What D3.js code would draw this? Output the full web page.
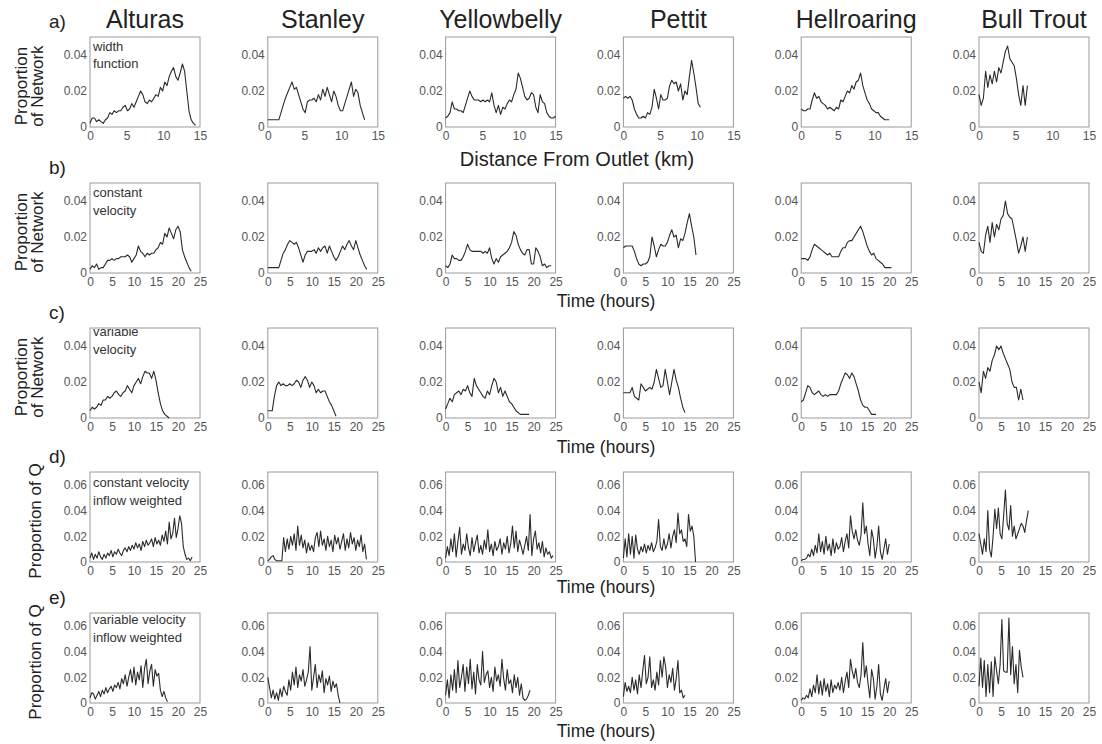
<!DOCTYPE html>
<html><head><meta charset="utf-8">
<script src="https://cdn.jsdelivr.net/npm/d3@7"></script>
<style>body{margin:0;background:#fff} text{font-family:"Liberation Sans",Arial,sans-serif}</style>
</head><body><svg id="chart" width="1102" height="744"></svg>
<script>
// ---------- categories & labels ----------
const sites = ["Alturas","Stanley","Yellowbelly","Pettit","Hellroaring","Bull Trout"];
const rowLetters = ["a)","b)","c)","d)","e)"];
const rowNotes = [["width","function"],["constant","velocity"],["variable","velocity"],["constant velocity","inflow weighted"],["variable velocity","inflow weighted"]];
const rowYTitles = [["Proportion","of Network"],["Proportion","of Network"],["Proportion","of Network"],["Proportion of Q"],["Proportion of Q"]];
const rowXTitles = ["Distance From Outlet (km)","Time (hours)","Time (hours)","Time (hours)","Time (hours)"];
const kmTicks = [0,5,10,15];
const hourTicks = [0,5,10,15,20,25];
// y values are stored in thousandths (0.001) of the proportion
const networkTicks = [0,20,40];
const networkTickLabels = ["0","0.02","0.04"];
const qTicks = [0,20,40,60];
const qTickLabels = ["0","0.02","0.04","0.06"];
// sampling intervals of the series
const stepKm = 0.3;      // km between width-function samples
const stepHours = 0.5;   // hours between travel-time samples (rows b, c)
const stepHoursQ = 0.4;  // hours between inflow-weighted samples (rows d, e)

// ---------- a) width function (km) ----------
const widthAlturas = [2,5,5,3,4,3,2,4,5,8,7,9,8,9,9,11,12,9,10,13,11,14,17,20,18,14,13,15,14,16,18,17,22,20,25,23,28,31,33,28,26,30,35,31,20,9,4,2,1];
const widthStanley = [4,4,4,4,4,4,8,12,16,19,22,25,21,22,18,14,10,8,14,15,15,16,14,18,15,21,17,22,18,14,20,17,12,9,9,13,17,21,25,17,21,19,12,8,4];
const widthYellowbelly = [5,6,8,14,10,10,9,9,8,12,16,20,17,15,15,15,14,15,14,15,14,19,12,8,12,7,11,10,13,15,14,18,21,30,27,22,17,15,16,19,18,11,8,18,14,13,8,6,5,5,6];
const widthPettit = [16,17,16,17,15,10,7,5,5,6,5,8,7,11,21,16,10,18,15,15,16,23,26,24,25,20,24,15,20,18,28,37,30,22,13,11];
const widthHellroaring = [10,9,9,10,10,15,19,16,17,14,13,12,10,11,10,9,11,10,15,14,17,20,19,23,21,25,26,30,23,19,15,13,10,9,8,8,6,5,4,4,4];
const widthBullTrout = [18,12,16,31,22,29,24,31,25,33,30,36,42,45,38,36,34,27,18,12,23,12,23];

// ---------- b) constant velocity (hours) ----------
const constAlturas = [2,4,3,5,2,3,3,5,7,7,8,7,8,8,9,9,9,10,9,6,8,10,15,12,11,9,11,10,11,11,13,14,17,16,22,20,25,22,19,24,26,23,13,9,6,3,1];
const constStanley = [3,3,3,3,3,3,7,11,13,16,18,17,16,17,14,10,6,10,12,12,12,13,11,14,12,14,15,11,15,12,9,7,9,12,15,13,16,18,15,13,18,14,10,7,4,2];
const constYellowbelly = [4,3,5,10,8,8,7,7,9,12,16,13,12,12,12,12,12,11,12,11,14,8,5,8,6,9,10,11,12,14,17,23,21,16,13,11,10,13,13,5,5,14,12,9,4,5,3,4,4];
const constPettit = [14,15,15,15,15,12,8,5,4,5,5,6,9,20,15,9,13,16,15,15,17,21,24,20,21,14,19,18,22,28,33,26,20,10];
const constHellroaring = [8,8,8,7,9,13,16,15,14,13,12,11,10,11,9,9,9,9,12,14,14,17,18,18,20,22,24,26,23,19,15,12,10,11,8,7,6,5,3,3,3,3];
const constBullTrout = [17,12,11,21,26,17,28,20,27,24,30,32,40,33,31,30,24,18,11,15,20,12,20];

// ---------- c) variable velocity (hours) ----------
const varAlturas = [4,6,5,6,8,7,10,10,12,11,12,14,15,13,12,14,15,18,16,14,18,20,22,19,23,26,25,25,22,26,21,14,8,4,2,1,0];
const varStanley = [4,4,4,12,18,20,18,19,18,18,19,18,19,21,20,17,21,23,21,17,20,18,14,16,14,15,15,12,9,7,4,1];
const varYellowbelly = [5,8,11,9,13,14,15,13,16,15,18,14,12,22,18,16,14,12,11,15,13,18,22,20,14,17,12,15,12,9,8,6,4,3,2,2,2,2,2];
const varPettit = [14,14,14,14,17,12,11,10,19,17,15,16,17,16,20,27,22,17,18,27,20,13,20,27,21,17,11,6,3];
const varHellroaring = [9,10,14,18,17,14,13,14,15,13,12,13,12,13,13,13,13,15,19,22,25,24,22,25,23,19,15,10,7,6,6,4,2,2,2];
const varBullTrout = [20,14,26,22,28,26,32,35,40,38,40,36,33,30,27,20,17,17,10,16,10];

// ---------- d) constant velocity, inflow weighted (hours) ----------
const constQAlturas = [3,7,2,6,3,8,4,2,6,3,7,5,9,4,8,6,10,7,5,9,11,8,12,9,13,10,15,11,14,9,16,12,17,13,15,18,12,19,14,17,13,21,16,24,14,31,18,22,34,19,26,36,30,12,6,2,3,1,4];
const constQStanley = [1,2,4,5,2,1,1,1,1,19,8,18,10,20,13,22,9,28,13,21,11,17,7,15,9,13,8,19,23,12,24,13,18,9,20,12,17,8,21,14,19,10,16,22,9,18,11,23,14,19,9,17,12,21,8,14,2];
const constQYellowbelly = [3,12,5,18,8,22,4,16,27,6,14,9,22,11,5,19,8,15,21,7,13,6,17,10,25,8,14,5,16,9,12,18,6,15,10,20,7,14,28,11,24,8,17,12,6,13,20,9,37,5,18,24,10,15,7,16,4,11,6,8,3,5];
const constQPettit = [3,18,4,22,6,20,3,21,10,6,12,8,14,7,13,9,15,8,11,16,33,12,9,18,10,14,22,11,20,25,15,38,22,25,16,18,12,37,24,28,20,0];
const constQHellroaring = [1,2,2,3,6,4,10,5,13,7,22,8,16,6,20,9,14,5,18,7,15,10,12,19,8,16,22,11,36,24,18,25,17,13,21,46,22,28,14,5,25,18,3,12,28,8,2,10,18,6,14];
const constQBullTrout = [22,14,6,18,8,40,10,4,20,41,26,42,22,18,36,56,30,25,44,20,28,18,22,26,30,28,23,32,40];

// ---------- e) variable velocity, inflow weighted (hours) ----------
const varQAlturas = [4,8,7,3,6,9,5,10,7,12,8,11,13,9,14,12,16,11,19,15,22,13,20,26,16,28,14,24,18,29,12,27,34,15,25,30,13,26,21,23,10,5,9,4,1];
const varQStanley = [20,12,4,10,3,8,2,11,5,13,9,6,18,10,24,14,28,12,22,17,26,13,18,24,44,10,20,30,12,22,16,25,8,19,14,21,9,17,12,15,6,0];
const varQYellowbelly = [6,18,4,22,10,26,8,33,12,20,30,9,28,15,34,11,24,7,30,18,14,40,16,22,25,12,20,9,28,17,22,13,34,19,10,26,15,18,8,22,12,20,6,15,4,2,3,6,10];
const varQPettit = [5,16,9,13,8,20,10,18,7,22,12,25,37,15,20,36,12,18,10,24,14,33,20,36,28,12,22,16,27,10,19,33,8,10,4,6];
const varQHellroaring = [2,4,3,6,4,11,5,14,8,22,7,17,6,19,9,15,5,18,8,14,11,16,10,20,8,17,24,12,34,25,19,27,16,12,22,47,20,29,15,4,26,19,3,13,30,7,2,11,19,8,17];
const varQBullTrout = [13,35,12,33,5,30,8,32,5,36,25,15,30,65,25,24,24,66,22,44,15,30,8,41,28,20];

// ---------- assemble rows ----------
const rows = [
  {series:[widthAlturas,widthStanley,widthYellowbelly,widthPettit,widthHellroaring,widthBullTrout], step:stepKm, xMax:15, xTicks:kmTicks, yMax:50, yTicks:networkTicks, yLabels:networkTickLabels},
  {series:[constAlturas,constStanley,constYellowbelly,constPettit,constHellroaring,constBullTrout], step:stepHours, xMax:25, xTicks:hourTicks, yMax:50, yTicks:networkTicks, yLabels:networkTickLabels},
  {series:[varAlturas,varStanley,varYellowbelly,varPettit,varHellroaring,varBullTrout], step:stepHours, xMax:25, xTicks:hourTicks, yMax:50, yTicks:networkTicks, yLabels:networkTickLabels},
  {series:[constQAlturas,constQStanley,constQYellowbelly,constQPettit,constQHellroaring,constQBullTrout], step:stepHoursQ, xMax:25, xTicks:hourTicks, yMax:70, yTicks:qTicks, yLabels:qTickLabels},
  {series:[varQAlturas,varQStanley,varQYellowbelly,varQPettit,varQHellroaring,varQBullTrout], step:stepHoursQ, xMax:25, xTicks:hourTicks, yMax:70, yTicks:qTicks, yLabels:qTickLabels}
];

// ---------- layout ----------
const svg = d3.select("#chart");
const panelW = 110, panelH = 90;
const colLeft = d3.range(sites.length).map(i => 90 + 177.8 * i);
const rowTop = [37, 183, 328, 472, 613];
const noteY = [[14,31],[14,32],[8,26],[15,33],[11,29]];
const xTitleY = [166, 307, 453, 593, 737];
const xTitleX = [577, 606, 606, 606, 606];

svg.append("defs").append("clipPath").attr("id", "panelClip")
  .append("rect").attr("x", 0).attr("y", 1).attr("width", panelW).attr("height", panelH);

// column titles
sites.forEach((s, c) => {
  svg.append("text").attr("x", colLeft[c] + panelW / 2).attr("y", 28)
    .attr("text-anchor", "middle").attr("font-size", 25).attr("fill", "#222").text(s);
});

rows.forEach((row, r) => {
  const top = rowTop[r];
  const x = d3.scaleLinear().domain([0, row.xMax]).range([0, panelW]);
  const y = d3.scaleLinear().domain([0, row.yMax]).range([panelH, 0]);
  const line = d3.line().x((v, i) => x(i * row.step)).y(v => y(v));

  // row letter
  svg.append("text").attr("x", 49).attr("y", top - 9).attr("font-size", 19).attr("fill", "#222").text(rowLetters[r]);

  // y title
  const cy = top + panelH / 2 + 4;
  const yt = rowYTitles[r];
  yt.forEach((t, k) => {
    const bx = yt.length === 2 ? (k === 0 ? 27 : 43) : 41;
    svg.append("text").attr("transform", `translate(${bx},${cy}) rotate(-90)`)
      .attr("text-anchor", "middle").attr("font-size", 17).attr("fill", "#222").text(t);
  });

  // x title
  svg.append("text").attr("x", xTitleX[r]).attr("y", xTitleY[r]).attr("text-anchor", "middle")
    .attr("font-size", r === 0 ? 20 : 17.5).attr("fill", "#222").text(rowXTitles[r]);

  sites.forEach((s, c) => {
    const g = svg.append("g").attr("transform", `translate(${colLeft[c]},${top})`);

    const xa = g.append("g").attr("transform", `translate(0,${panelH})`)
      .call(d3.axisBottom(x).tickValues(row.xTicks).tickSize(0).tickPadding(4).tickFormat(d3.format("d")));
    const ya = g.append("g")
      .call(d3.axisLeft(y).tickValues(row.yTicks).tickSize(0).tickPadding(3).tickFormat((d, i) => row.yLabels[i]));
    [xa, ya].forEach(a => {
      a.select(".domain").remove();
      a.selectAll("text").attr("font-size", 12).attr("fill", "#555").attr("font-family", '"Liberation Sans",Arial,sans-serif');
    });

    if (c === 0) {
      const notes = g.append("g").attr("clip-path", "url(#panelClip)");
      rowNotes[r].forEach((t, k) => {
        notes.append("text").attr("x", 3).attr("y", noteY[r][k]).attr("font-size", 13).attr("fill", "#333").text(t);
      });
    }

    g.append("rect").attr("width", panelW).attr("height", panelH)
      .attr("fill", "none").attr("stroke", "#9a9a9a").attr("stroke-width", 1);

    g.append("path").datum(row.series[c]).attr("d", line)
      .attr("fill", "none").attr("stroke", "#2b2b2b").attr("stroke-width", 1.1).attr("stroke-linejoin", "round");
  });
});
</script></body></html>
